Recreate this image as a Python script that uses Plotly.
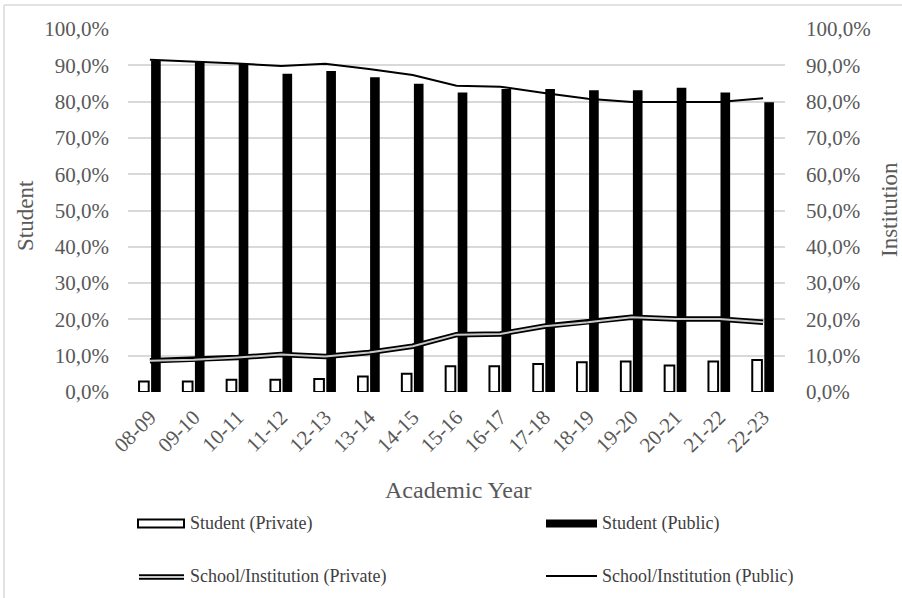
import plotly.graph_objects as go

years = ["08-09", "09-10", "10-11", "11-12", "12-13", "13-14", "14-15", "15-16",
         "16-17", "17-18", "18-19", "19-20", "20-21", "21-22", "22-23"]
student_private = [2.9, 2.9, 3.4, 3.4, 3.6, 4.3, 5.0, 7.1, 7.1, 7.7, 8.2, 8.4, 7.3, 8.4, 8.8]
student_public = [91.3, 91.0, 90.4, 87.7, 88.4, 86.7, 84.9, 82.5, 83.5, 83.5, 83.1, 83.1, 83.8, 82.5, 79.8]
inst_private = [8.6, 8.9, 9.5, 10.3, 9.8, 10.9, 12.6, 15.8, 16.0, 18.1, 19.2, 20.6, 20.1, 20.1, 19.2]
inst_public = [91.5, 91.1, 90.5, 89.8, 90.4, 89.0, 87.3, 84.4, 84.1, 82.4, 80.8, 79.9, 79.9, 79.9, 80.9]
y_ticks = [i / 10 for i in range(11)]

W, H = 902, 598
L, R, T, B = 128, 117, 29, 206
PW, PH = W - L - R, H - T - B


def px(x):
    return (x - L) / PW


def py(y):
    return (H - B - y) / PH


FONT = "Liberation Serif, Times New Roman, serif"
GRAY = "#595959"

fig = go.Figure()
fig.add_trace(go.Bar(x=years, y=[v / 100 for v in student_private], name="Student (Private)",
                     marker=dict(color="white", line=dict(color="black", width=2)),
                     showlegend=False))
fig.add_trace(go.Bar(x=years, y=[v / 100 for v in student_public], name="Student (Public)",
                     marker=dict(color="black", line=dict(color="black", width=0)),
                     showlegend=False))
fig.add_trace(go.Scatter(x=years, y=[v / 100 for v in inst_private], yaxis="y2", mode="lines",
                         line=dict(color="black", width=5.5), showlegend=False))
fig.add_trace(go.Scatter(x=years, y=[v / 100 for v in inst_private], yaxis="y2", mode="lines",
                         line=dict(color="#c8c8c8", width=2), showlegend=False))
fig.add_trace(go.Scatter(x=years, y=[v / 100 for v in inst_public], yaxis="y2", mode="lines",
                         line=dict(color="black", width=2), showlegend=False))

axis_common = dict(range=[0, 1], tickvals=y_ticks, tickformat=".1%",
                   tickfont=dict(family=FONT, size=21, color=GRAY),
                   zeroline=False, showline=False, fixedrange=True)

fig.update_layout(
    width=W, height=H,
    margin=dict(l=L, r=R, t=T, b=B, autoexpand=False),
    paper_bgcolor="white", plot_bgcolor="white",
    separators=",.",
    barmode="group", bargap=0.45, bargroupgap=0.2,
    xaxis=dict(type="category", range=[-0.5, 14.5], tickangle=-45,
               tickfont=dict(family=FONT, size=21, color=GRAY),
               showgrid=False, showline=False, ticks="", ticklabelstandoff=8),
    yaxis=dict(**axis_common, showgrid=True, gridcolor="#d9d9d9", gridwidth=1.5,
               ticklabelstandoff=18),
    yaxis2=dict(**axis_common, overlaying="y", side="right", showgrid=False,
                ticklabelstandoff=20),
    showlegend=False,
)

annotations = [
    dict(text="Student", x=px(25), y=py(216), textangle=-90,
         font=dict(family=FONT, size=23, color=GRAY)),
    dict(text="Institution", x=px(889), y=py(210), textangle=-90,
         font=dict(family=FONT, size=23, color=GRAY)),
    dict(text="Academic Year", x=px(458), y=py(490),
         font=dict(family=FONT, size=24, color=GRAY)),
]
legend_items = [
    ("Student (Private)", 137, 188, 523),
    ("Student (Public)", 546, 600, 523),
    ("School/Institution (Private)", 137, 188, 576),
    ("School/Institution (Public)", 546, 600, 576),
]
for text, sx, tx, ty in legend_items:
    annotations.append(dict(text=text, x=px(tx), y=py(ty), xanchor="left", yanchor="middle",
                            font=dict(family=FONT, size=18, color="#404040")))
for a in annotations:
    a.setdefault("xanchor", "center")
    a.setdefault("yanchor", "middle")
    a.update(xref="paper", yref="paper", showarrow=False)
fig.update_layout(annotations=annotations)

shapes = [
    # chart border (top and left visible)
    dict(type="line", x0=px(4), x1=px(905), y0=py(5), y1=py(5),
         line=dict(color="#d9d9d9", width=1.5)),
    dict(type="line", x0=px(4), x1=px(4), y0=py(5), y1=py(600),
         line=dict(color="#d9d9d9", width=1.5)),
    # legend symbols
    dict(type="rect", x0=px(138), x1=px(184), y0=py(519.5), y1=py(527.5),
         fillcolor="white", line=dict(color="black", width=2)),
    dict(type="rect", x0=px(546), x1=px(597), y0=py(519.5), y1=py(527.5),
         fillcolor="black", line=dict(color="black", width=0)),
    dict(type="line", x0=px(139), x1=px(184), y0=py(577), y1=py(577),
         line=dict(color="black", width=5.5)),
    dict(type="line", x0=px(139), x1=px(184), y0=py(577), y1=py(577),
         line=dict(color="#c8c8c8", width=2)),
    dict(type="line", x0=px(546), x1=px(597), y0=py(576), y1=py(576),
         line=dict(color="black", width=2)),
]
for s in shapes:
    s.update(xref="paper", yref="paper")
fig.update_layout(shapes=shapes)

fig.write_html("out.html")
